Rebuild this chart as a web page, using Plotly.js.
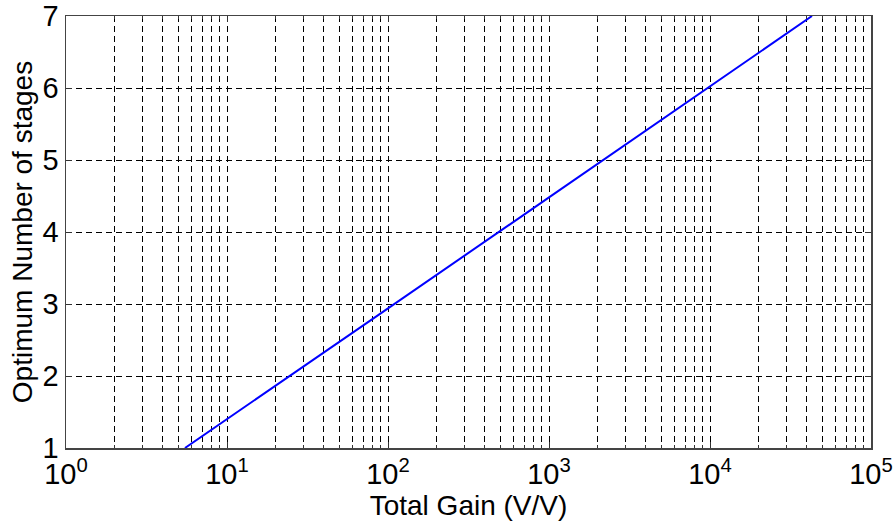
<!DOCTYPE html>
<html><head><meta charset="utf-8">
<script src="https://cdn.plot.ly/plotly-3.0.1.min.js"></script>
<style>html,body{margin:0;padding:0;background:#fff}</style>
</head><body>
<div id="chart" style="width:896px;height:525px"></div>
<script>
const totalGain = [5.48, 10, 100, 1000, 10000, 43000];
const optimumStages = [1.0, 1.40, 2.94, 4.48, 6.02, 7.0];
const xTickVals = [1, 10, 100, 1000, 10000, 100000];
const xTickText = ['10<sup>0</sup>','10<sup>1</sup>','10<sup>2</sup>','10<sup>3</sup>','10<sup>4</sup>','10<sup>5</sup>'];
const yTickVals = [1, 2, 3, 4, 5, 6, 7];
const minorVals = [];
for (let d = 0; d < 5; d++) for (let m = 2; m <= 9; m++) minorVals.push(m * Math.pow(10, d));

const fam = 'Liberation Sans, Arial, sans-serif';
Plotly.newPlot('chart', [{
  x: totalGain, y: optimumStages, type: 'scatter', mode: 'lines',
  line: {color: '#0000ff', width: 2}, hoverinfo: 'skip'
}], {
  width: 896, height: 525,
  margin: {l: 66, r: 25, t: 16, b: 77},
  paper_bgcolor: '#fff', plot_bgcolor: '#fff',
  showlegend: false,
  font: {family: fam, color: '#000'},
  xaxis: {
    type: 'log', range: [0, 5],
    tickvals: xTickVals, ticktext: xTickText,
    tickfont: {size: 29, family: fam, color: '#000'},
    ticks: 'inside', ticklen: 6, tickcolor: '#333',
    showline: true, linecolor: '#444', linewidth: 1.5, mirror: 'ticks',
    showgrid: true, gridcolor: '#000', gridwidth: 1, griddash: '6px,4px',
    zeroline: false,
    minor: {tickvals: minorVals, ticks: 'inside', ticklen: 3, tickcolor: '#333',
            showgrid: true, gridcolor: '#000', gridwidth: 1, griddash: '6px,4px'},
    title: {text: 'Total Gain (V/V)', font: {size: 28, family: fam, color: '#000'}, standoff: 0}
  },
  yaxis: {
    range: [1, 7], tickvals: yTickVals,
    tickfont: {size: 29, family: fam, color: '#000'},
    ticks: 'inside', ticklen: 6, tickcolor: '#333',
    showline: true, linecolor: '#444', linewidth: 1.5, mirror: 'ticks',
    showgrid: true, gridcolor: '#000', gridwidth: 1, griddash: '6px,4px',
    zeroline: false,
    title: {text: 'Optimum Number of stages', font: {size: 28, family: fam, color: '#000'}, standoff: 2}
  }
}, {staticPlot: true});
</script>
</body></html>
